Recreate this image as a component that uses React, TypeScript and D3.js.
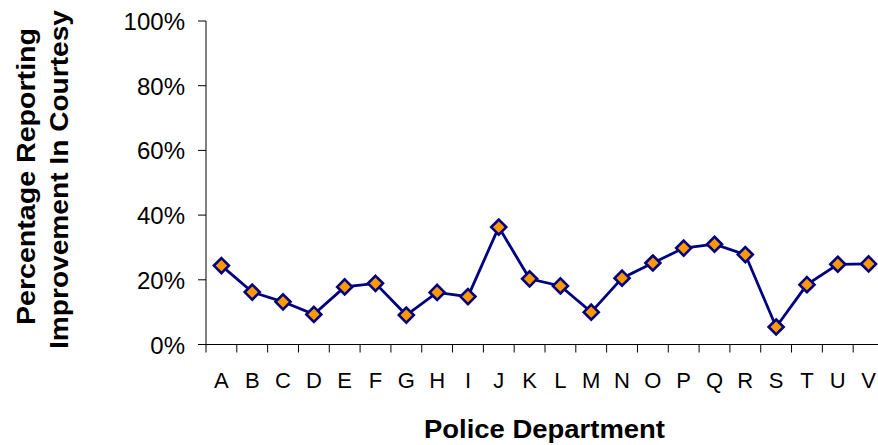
import React from "react";
import * as d3 from "d3";

const categories = ["A","B","C","D","E","F","G","H","I","J","K","L","M","N","O","P","Q","R","S","T","U","V"];
const values = [24.4,16.2,13.2,9.3,17.8,18.9,9.1,16.1,14.8,36.3,20.3,18.1,10.0,20.5,25.2,29.8,31.0,27.8,5.4,18.5,24.8,24.9];
const yTicks = [0,20,40,60,80,100];

const W = 878, H = 445;
const left = 206, right = 884, top = 21, bottom = 344.5;

export default function App() {
  const x = d3.scaleBand<string>().domain(categories).range([left, right]).padding(0);
  const y = d3.scaleLinear().domain([0, 100]).range([bottom, top]);
  const line = d3.line<number>()
    .x((_, i) => (x(categories[i]) as number) + x.bandwidth() / 2)
    .y((d) => y(d));
  const font = "'Liberation Sans', Arial, sans-serif";
  const r = 7.5;
  return (
    <svg width={W} height={H} style={{ position: "absolute", left: 0, top: 0, display: "block" }} fontFamily={font}>
      <rect width={W} height={H} fill="#fff" />
      {/* y axis */}
      <line x1={left} x2={left} y1={top} y2={bottom} stroke="#000" strokeWidth={1} />
      {yTicks.map((t) => (
        <g key={t}>
          <line x1={left - 8} x2={left} y1={y(t)} y2={y(t)} stroke="#000" strokeWidth={1} />
          <text x={185} y={y(t) + 9} textAnchor="end" fontSize={24} fill="#000">{t}%</text>
        </g>
      ))}
      {/* x axis */}
      <line x1={left} x2={W} y1={bottom} y2={bottom} stroke="#000" strokeWidth={1} />
      {categories.map((c) => (
        <g key={c}>
          <line x1={x(c) as number} x2={x(c) as number} y1={bottom} y2={bottom + 8} stroke="#000" strokeWidth={1} />
          <text x={(x(c) as number) + x.bandwidth() / 2} y={388} textAnchor="middle" fontSize={22} fill="#000">{c}</text>
        </g>
      ))}
      <path d={line(values) || ""} fill="none" stroke="#000080" strokeWidth={2.8} />
      {values.map((v, i) => {
        const cx = (x(categories[i]) as number) + x.bandwidth() / 2;
        const cy = y(v);
        return (
          <path key={i} d={`M${cx},${cy - r}L${cx + r},${cy}L${cx},${cy + r}L${cx - r},${cy}Z`}
            fill="#FF9900" stroke="#000080" strokeWidth={2.6} />
        );
      })}
      <text x={544.5} y={437.5} textAnchor="middle" fontSize={25} fontWeight="bold" fill="#000"
        textLength={241} lengthAdjust="spacingAndGlyphs">Police Department</text>
      <g transform="translate(0,0) rotate(-90)">
        <text x={-176.5} y={35} textAnchor="middle" fontSize={25.5} fontWeight="bold" fill="#000"
          textLength={297} lengthAdjust="spacingAndGlyphs">Percentage Reporting</text>
        <text x={-179.5} y={68} textAnchor="middle" fontSize={25.5} fontWeight="bold" fill="#000"
          textLength={339} lengthAdjust="spacingAndGlyphs">Improvement In Courtesy</text>
      </g>
    </svg>
  );
}
